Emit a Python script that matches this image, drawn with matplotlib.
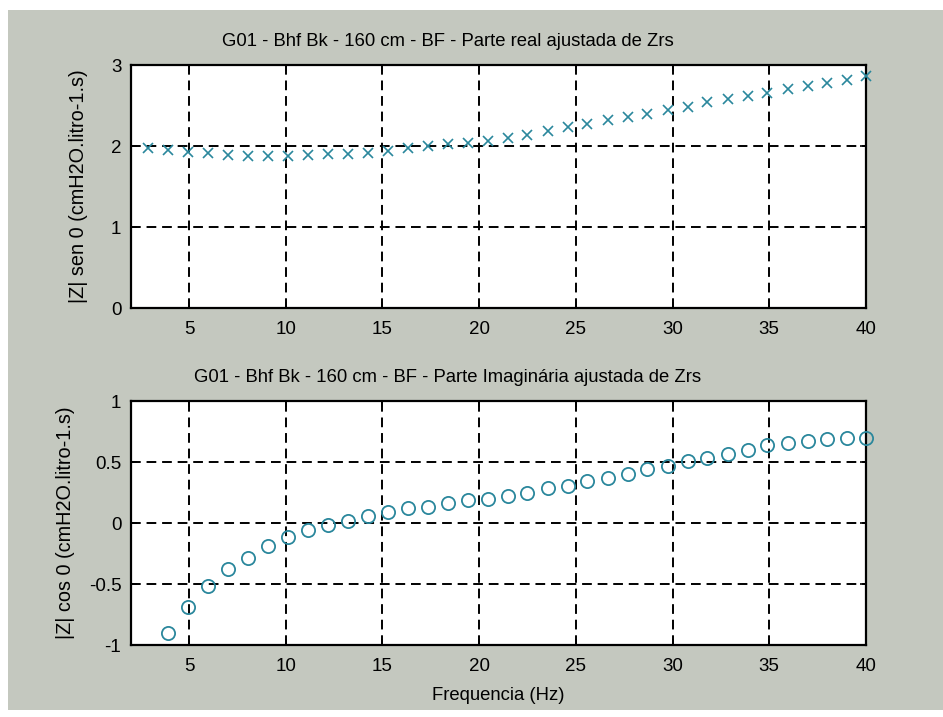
import matplotlib
matplotlib.use("Agg")
import matplotlib.pyplot as plt
from matplotlib.patches import Rectangle

# frequencias (Hz)
freq = [2.9, 3.9, 4.95, 6.0, 7.0, 8.05, 9.1, 10.1, 11.15, 12.2, 13.2, 14.25,
        15.3, 16.3, 17.35, 18.4, 19.4, 20.45, 21.5, 22.5, 23.55, 24.6, 25.6,
        26.65, 27.7, 28.7, 29.75, 30.8, 31.8, 32.85, 33.9, 34.9, 35.95, 37.0,
        38.0, 39.0, 40.0]

# parte real ajustada (|Z| sen 0)
real_z = [1.98, 1.95, 1.93, 1.92, 1.89, 1.88, 1.88, 1.88, 1.89, 1.90, 1.90,
          1.92, 1.94, 1.98, 2.00, 2.02, 2.04, 2.06, 2.10, 2.14, 2.19, 2.23,
          2.27, 2.32, 2.36, 2.40, 2.44, 2.48, 2.54, 2.58, 2.62, 2.66, 2.71,
          2.74, 2.78, 2.82, 2.87]

# parte imaginaria ajustada (|Z| cos 0), comeca no segundo ponto de freq
freq_im = freq[1:]
imag_z = [-0.90, -0.69, -0.52, -0.38, -0.29, -0.19, -0.115, -0.06, -0.02,
          0.015, 0.06, 0.09, 0.12, 0.13, 0.16, 0.185, 0.20, 0.225, 0.25,
          0.285, 0.305, 0.345, 0.37, 0.40, 0.445, 0.47, 0.505, 0.535, 0.565,
          0.60, 0.64, 0.655, 0.675, 0.69, 0.70, 0.70]

xticks = [5, 10, 15, 20, 25, 30, 35, 40]
yticks_re = [0, 1, 2, 3]
yticks_im = [-1, -0.5, 0, 0.5, 1]
yticklabels_im = ["-1", "-0.5", "0", "0.5", "1"]

titulo_re = "G01 - Bhf Bk - 160 cm - BF - Parte real ajustada de Zrs"
titulo_im = "G01 - Bhf Bk - 160 cm - BF - Parte Imaginária ajustada de Zrs"

plt.rcParams['font.family'] = ['Liberation Sans', 'DejaVu Sans']

cor = '#2a879c'
fundo = '#c4c8bf'

fig = plt.figure(figsize=(9.43, 7.17), dpi=100)
fig.patch.set_facecolor('white')
# area cinza da janela (scan tem borda branca)
fig.patches.append(Rectangle((8/943, 7/717), 1.0, 1 - 17/717,
                             transform=fig.transFigure, facecolor=fundo,
                             edgecolor='none', zorder=-10))

ax1 = fig.add_axes([0.1389, 0.5704, 0.7794, 0.3389])
ax2 = fig.add_axes([0.1389, 0.1004, 0.7794, 0.3403])

ax1.plot(freq, real_z, linestyle='none', marker='x', color=cor,
         markersize=6.5, markeredgewidth=1.2, clip_on=False, zorder=3)
ax2.plot(freq_im, imag_z, linestyle='none', marker='o', color=cor,
         markerfacecolor='none', markersize=9.5, markeredgewidth=1.3,
         clip_on=False, zorder=3)

for ax in (ax1, ax2):
    ax.set_facecolor('white')
    ax.set_xlim(2, 40)
    ax.set_xticks(xticks)
    ax.grid(True, color='black', linestyle=(0, (5, 3)), linewidth=1.4)
    ax.tick_params(direction='in', length=4, width=1.2, labelsize=13.5,
                   top=True, right=True)
    ax.tick_params(axis='x', pad=9)
    ax.tick_params(axis='y', pad=7)
    for s in ax.spines.values():
        s.set_linewidth(1.6)
        s.set_color('black')

ax1.set_ylim(0, 3)
ax1.set_yticks(yticks_re)
ax2.set_ylim(-1, 1)
ax2.set_yticks(yticks_im)
ax2.set_yticklabels(yticklabels_im)

# no original os titulos ficam um pouco a esquerda do centro dos eixos
ax1.set_title(titulo_re, fontsize=13.3, pad=14, x=0.431)
ax2.set_title(titulo_im, fontsize=13.3, pad=14, x=0.431)

ax1.set_ylabel("|Z| sen 0 (cmH2O.litro-1.s)", fontsize=14.3)
ax2.set_ylabel("|Z| cos 0 (cmH2O.litro-1.s)", fontsize=14.3)
ax1.yaxis.set_label_coords(-0.058, 0.5)
ax2.yaxis.set_label_coords(-0.0755, 0.5)

ax2.set_xlabel("Frequencia (Hz)", fontsize=13.3, labelpad=9)

fig.savefig("out.png", dpi=100, facecolor=fig.get_facecolor())
